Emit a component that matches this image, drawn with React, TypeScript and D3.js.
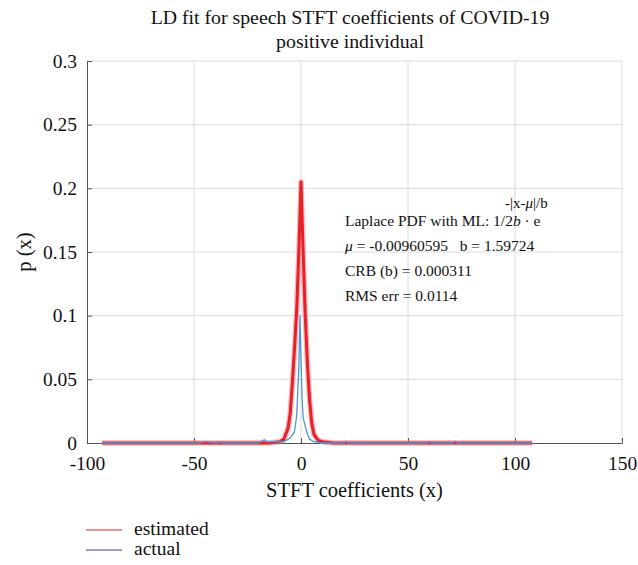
import * as d3 from "d3";
import { useRef, useEffect } from "react";

const WIDTH = 638;
const HEIGHT = 565;
const MARGIN = { top: 61, right: 16, bottom: 122, left: 87 };

const xTicks = [-100, -50, 0, 50, 100, 150];
const xTickLabels = ["-100", "-50", "0", "50", "100", "150"];
const yTicks = [0, 0.05, 0.1, 0.15, 0.2, 0.25, 0.3];
const yTickLabels = ["0", "0.05", "0.1", "0.15", "0.2", "0.25", "0.3"];

// estimated Laplace fit (red)
const estX = [-93, -40, -15, -10, -8, -6, -5, -4, -3, -2, -1, 0, 1, 2, 3, 4, 5, 6, 8, 10, 15, 40, 108];
const estY = [0.0, 0.0, 0.0, 0.001, 0.003, 0.012, 0.024, 0.048, 0.075, 0.105, 0.15, 0.205, 0.15, 0.1, 0.062, 0.034, 0.016, 0.007, 0.002, 0.001, 0.0, 0.0, 0.0];

// actual histogram (blue)
const actX = [-93, -60, -47, -45, -39, -38, -37, -20, -18, -17, -16, -8, -5, -3, -2, -1, -0.5, 0, 0.5, 1, 2, 3, 4, 6, 10, 20, 21, 22, 45, 59, 60, 61, 71, 72, 73, 108];
const actY = [0.0, 0.0, 0.0, 0.001, 0.0, 0.001, 0.0, 0.0, 0.002, 0.0025, 0.001, 0.001, 0.004, 0.009, 0.022, 0.06, 0.1, 0.065, 0.035, 0.02, 0.013, 0.007, 0.003, 0.001, 0.0, 0.0, 0.0015, 0.0, 0.0, 0.0, 0.001, 0.0, 0.0, 0.0015, 0.0, 0.0];

const titleLines = ["LD fit for speech STFT coefficients of COVID-19", "positive individual"];

const FONT = "'Liberation Serif', 'Times New Roman', serif";

export default function App() {
  const svgRef = useRef(null);

  useEffect(() => {
    const svg = d3.select(svgRef.current);
    svg.selectAll("*").remove();

    const innerWidth = WIDTH - MARGIN.left - MARGIN.right;
    const innerHeight = HEIGHT - MARGIN.top - MARGIN.bottom;

    const x = d3.scaleLinear().domain([-100, 150]).range([0, innerWidth]);
    const y = d3.scaleLinear().domain([0, 0.3]).range([innerHeight, 0]);

    const g = svg.append("g").attr("transform", `translate(${MARGIN.left},${MARGIN.top})`);

    // grid
    g.append("g")
      .selectAll("line")
      .data(xTicks.slice(1))
      .enter()
      .append("line")
      .attr("x1", (d) => x(d))
      .attr("x2", (d) => x(d))
      .attr("y1", 0)
      .attr("y2", innerHeight)
      .attr("stroke", "#dcdcdc")
      .attr("stroke-width", 1);
    g.append("g")
      .selectAll("line")
      .data(yTicks.slice(1))
      .enter()
      .append("line")
      .attr("x1", 0)
      .attr("x2", innerWidth)
      .attr("y1", (d) => y(d))
      .attr("y2", (d) => y(d))
      .attr("stroke", "#dcdcdc")
      .attr("stroke-width", 1);

    // axes
    const xAxis = g.append("g")
      .attr("transform", `translate(0,${innerHeight})`)
      .call(
        d3.axisBottom(x)
          .tickValues(xTicks)
          .tickFormat((d, i) => xTickLabels[i])
          .tickSizeInner(-5)
          .tickSizeOuter(0)
          .tickPadding(13)
      );
    const yAxis = g.append("g")
      .call(
        d3.axisLeft(y)
          .tickValues(yTicks)
          .tickFormat((d, i) => yTickLabels[i])
          .tickSizeInner(-5)
          .tickSizeOuter(0)
          .tickPadding(10)
      );
    [xAxis, yAxis].forEach((a) => {
      a.select(".domain").attr("stroke", "#555");
      a.selectAll(".tick line").attr("stroke", "#555");
      a.selectAll("text").attr("fill", "#111").style("font-family", FONT).style("font-size", "19.5px");
    });

    const line = d3.line<[number, number]>()
      .x((d) => x(d[0]))
      .y((d) => y(d[1]));

    const estData = estX.map((v, i) => [v, estY[i]] as [number, number]);
    const actData = actX.map((v, i) => [v, actY[i]] as [number, number]);

    // red glow + line
    g.append("path")
      .datum(estData)
      .attr("d", line)
      .attr("fill", "none")
      .attr("stroke", "#f08a8e")
      .attr("stroke-opacity", 0.6)
      .attr("stroke-width", 5.5)
      .attr("stroke-linejoin", "round");
    g.append("path")
      .datum(estData)
      .attr("d", line)
      .attr("fill", "none")
      .attr("stroke", "#e8202a")
      .attr("stroke-width", 3)
      .attr("stroke-linejoin", "round");

    g.append("path")
      .datum(actData)
      .attr("d", line)
      .attr("fill", "none")
      .attr("stroke", "#4b97d6")
      .attr("stroke-width", 1.3)
      .attr("stroke-linejoin", "round");

    // annotation
    const ann = svg.append("g").style("font-family", FONT).style("font-size", "15.5px").attr("fill", "#111");
    const t1 = ann.append("text").attr("x", 345).attr("y", 226);
    t1.append("tspan").text("Laplace PDF with ML: 1/2");
    t1.append("tspan").attr("font-style", "italic").text("b");
    t1.append("tspan").text(" · e");
    const sup = ann.append("text").attr("x", 505).attr("y", 208).style("font-size", "15px");
    sup.append("tspan").text("-|x-");
    sup.append("tspan").attr("font-style", "italic").text("μ");
    sup.append("tspan").text("|/b");
    const t2 = ann.append("text").attr("x", 345).attr("y", 251);
    t2.append("tspan").attr("font-style", "italic").text("μ");
    t2.append("tspan").text(" = -0.00960595\u00a0\u00a0\u00a0b = 1.59724");
    ann.append("text").attr("x", 345).attr("y", 276).text("CRB (b) = 0.000311");
    ann.append("text").attr("x", 345).attr("y", 301).text("RMS err = 0.0114");

    // title
    svg.append("g")
      .selectAll("text")
      .data(titleLines)
      .enter()
      .append("text")
      .attr("x", 350)
      .attr("y", (d, i) => 24 + i * 24)
      .attr("text-anchor", "middle")
      .style("font-family", FONT)
      .style("font-size", "19.8px")
      .attr("fill", "#111")
      .text((d) => d);

    // axis labels
    svg.append("text")
      .attr("x", MARGIN.left + x(25))
      .attr("y", 497)
      .attr("text-anchor", "middle")
      .style("font-family", FONT)
      .style("font-size", "20.5px")
      .attr("fill", "#111")
      .text("STFT coefficients (x)");
    svg.append("text")
      .attr("transform", `translate(31,${MARGIN.top + y(0.15)}) rotate(-90)`)
      .attr("text-anchor", "middle")
      .style("font-family", FONT)
      .style("font-size", "20.5px")
      .attr("fill", "#111")
      .text("p (x)");

    // legend
    const legend = svg.append("g").attr("transform", "translate(86,0)");
    const items = [
      { label: "estimated", color: "#e8202a", yy: 530 },
      { label: "actual", color: "#3c3c9c", yy: 550 },
    ];
    items.forEach((it) => {
      legend.append("line").attr("x1", 0).attr("x2", 36).attr("y1", it.yy).attr("y2", it.yy).attr("stroke", it.color).attr("stroke-width", 1.2);
      legend.append("text")
        .attr("x", 48)
        .attr("y", it.yy + 5)
        .style("font-family", FONT)
        .style("font-size", "19.5px")
        .attr("fill", "#111")
        .text(it.label);
    });
  }, []);

  return <svg ref={svgRef} width={WIDTH} height={HEIGHT} style={{ position: "absolute", left: 0, top: 0, background: "#fff" }} />;
}
